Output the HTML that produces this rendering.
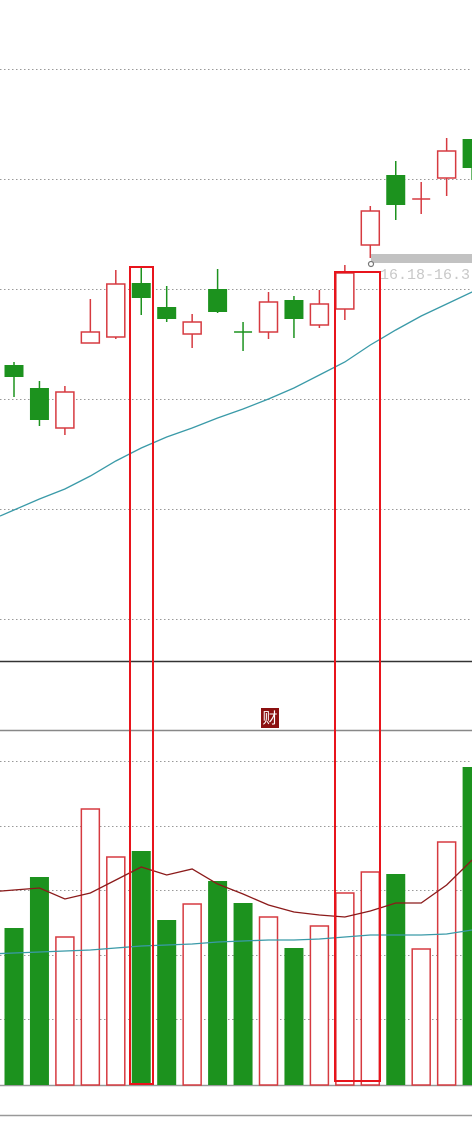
<!DOCTYPE html>
<html><head><meta charset="utf-8"><style>
html,body{margin:0;padding:0;background:#fff;width:472px;height:1135px;overflow:hidden}
svg{display:block}
</style></head><body>
<svg id="chart" width="472" height="1135" xmlns="http://www.w3.org/2000/svg">
<g id="grid"></g>
<g id="panels">
<line x1="0" y1="661.5" x2="472" y2="661.5" stroke="#333" stroke-width="1.5"/>
<line x1="0" y1="730.5" x2="472" y2="730.5" stroke="#888" stroke-width="1.5"/>
<line x1="0" y1="1085.5" x2="472" y2="1085.5" stroke="#999" stroke-width="1.5"/>
<line x1="0" y1="1115.5" x2="472" y2="1115.5" stroke="#999" stroke-width="1.5"/>
</g>
<g>
<rect x="261" y="708" width="18" height="20" fill="#8b1010"/>
<text x="270" y="723" fill="#fff" font-size="15" text-anchor="middle" font-family="'Liberation Sans','Noto Sans CJK SC',sans-serif">财</text>
</g>
<g id="price-ma"></g>
<g id="candles"></g>
<g id="vols"></g>
<g id="vol-ma"></g>
<g>
<rect x="371" y="254" width="101" height="9" fill="#c2c2c2"/>
<circle cx="371" cy="264" r="2.5" fill="#fff" stroke="#777" stroke-width="1.2"/>
<text x="380" y="279" fill="#c8c8c8" font-size="15" font-family="'Liberation Mono',monospace">16.18-16.3</text>
</g>
<g>
<rect x="130" y="267" width="23" height="817" fill="none" stroke="#e8141c" stroke-width="2"/>
<rect x="335" y="272" width="45" height="809" fill="none" stroke="#e8141c" stroke-width="2"/>
</g>
</svg>
<script>
const opens  =[16.95,16.72,16.32,17.17,17.23,17.77,17.53,17.26,17.71,17.28,17.28,17.60,17.35,17.51,18.15,18.85,18.61,18.82,19.21];
const highs  =[16.98,16.79,16.74,17.61,17.90,17.94,17.74,17.46,17.91,17.38,17.68,17.64,17.70,17.95,18.54,18.99,18.78,19.22,19.21];
const lows   =[16.63,16.34,16.25,17.17,17.21,17.45,17.38,17.12,17.47,17.09,17.21,17.22,17.32,17.40,18.02,18.40,18.46,18.64,18.80];
const closes =[16.83,16.40,16.68,17.28,17.76,17.62,17.41,17.38,17.48,17.28,17.58,17.41,17.56,17.87,18.49,18.55,18.61,19.09,18.92];
const upFlag =[0,0,1,1,1,0,0,1,0,0,1,0,1,1,1,0,1,1,0];
const priceMA=[15.50,15.61,15.71,15.84,15.99,16.12,16.23,16.32,16.42,16.51,16.61,16.72,16.85,16.98,17.15,17.30,17.44,17.56,17.68];
const volumes=[157,208,148,276,228,234,165,181,204,182,168,137,159,192,213,211,136,243,318];
const volMA5 =[195,197,186,192,205,218,210,216,201,191,180,173,170,168,174,182,182,200,225];
const volMA10=[132,133,134,135,137,139,140,141,143,144,145,145,146,148,150,150,150,151,155];
const priceTicks=[20.60-0.69,20.60-1.79,20.60-2.89,20.60-3.99,20.60-5.09,20.60-6.19];
const volTicks=[324,259,195,130,66];

const NS='http://www.w3.org/2000/svg';
const xC=i=>14+i*25.45;
const yP=v=>(20.6-v)*100;
const yV=v=>1085-v;
function mk(tag,attrs,parent){const e=document.createElementNS(NS,tag);for(const k in attrs)e.setAttribute(k,attrs[k]);parent.appendChild(e);return e;}
const grid=document.getElementById('grid');
priceTicks.forEach(t=>{const l=mk('line',{x1:0,x2:472,y1:Math.round(yP(t))+0.5,y2:Math.round(yP(t))+0.5,stroke:'#999','stroke-dasharray':'1.5 2.5'},grid);

});
volTicks.forEach(t=>{const l=mk('line',{x1:0,x2:472,y1:Math.round(yV(t))+0.5,y2:Math.round(yV(t))+0.5,stroke:'#999','stroke-dasharray':'1.5 2.5'},grid);

});
const RED='#d63a40',GREEN='#1c921e';
const cg=document.getElementById('candles');
opens.forEach((o,i)=>{const c=closes[i],x=xC(i),up=upFlag[i];const col=up?RED:GREEN;
const g=mk('g',{},cg);


const top=yP(Math.max(o,c)),bot=yP(Math.min(o,c));
mk('line',{x1:x,x2:x,y1:yP(highs[i]),y2:top,stroke:col,'stroke-width':1.5},g);
mk('line',{x1:x,x2:x,y1:bot,y2:yP(lows[i]),stroke:col,'stroke-width':1.5},g);
if(bot-top<1.5){mk('line',{x1:x-9,x2:x+9,y1:top,y2:top,stroke:col,'stroke-width':1.5},g);}
else if(up){mk('rect',{x:x-9,y:top,width:18,height:bot-top,fill:'#fff',stroke:col,'stroke-width':1.5},g);}
else{mk('rect',{x:x-9.5,y:top,width:19,height:bot-top,fill:col},g);}
});
function line(arr,yf,col,parent,name,ext){let pts=arr.map((v,i)=>[xC(i),yf(v)]);
if(ext){const s=(pts[1][1]-pts[0][1])/(pts[1][0]-pts[0][0]);pts.unshift([0,pts[0][1]-s*pts[0][0]]);}
const p=mk('polyline',{points:pts.map(p=>p.join(',')).join(' '),fill:'none',stroke:col,'stroke-width':1.3},parent);

}
line(priceMA,yP,'#3a9aa8',document.getElementById('price-ma'),'price-ma',true);
const vg=document.getElementById('vols');
volumes.forEach((v,i)=>{const x=xC(i),up=upFlag[i];let r;
if(up)r=mk('rect',{x:x-9,y:yV(v),width:18,height:v,fill:'#fff',stroke:RED,'stroke-width':1.5},vg);
else r=mk('rect',{x:x-9.5,y:yV(v),width:19,height:v,fill:GREEN},vg);

});
const vm=document.getElementById('vol-ma');
line(volMA5,yV,'#8b1a1a',vm,'volume-ma5',true);
line(volMA10,yV,'#3a9aa8',vm,'volume-ma10',true);
</script>
</body></html>
